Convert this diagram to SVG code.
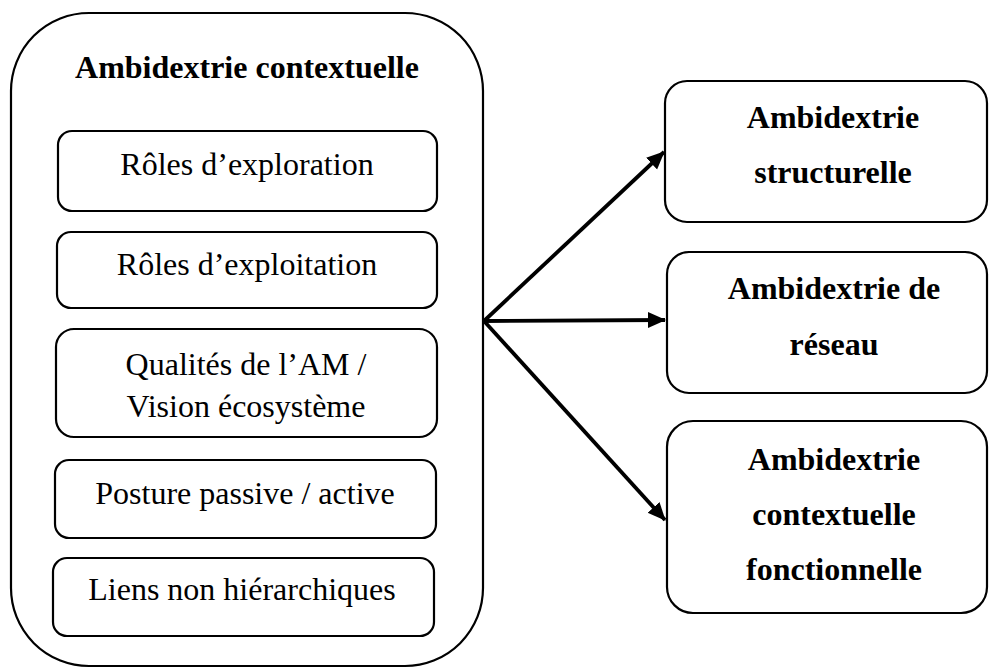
<svg xmlns="http://www.w3.org/2000/svg" width="990" height="668" viewBox="0 0 990 668">
<style>
.box{fill:#fff;stroke:#000;stroke-width:2.2}
.t{font-family:"Liberation Serif","Times New Roman",serif;font-size:32px;fill:#000;text-anchor:middle}
.b{font-weight:bold}
.c{stroke:#000;stroke-width:3.8;fill:none}
</style>
<defs>
<marker id="ah" markerUnits="userSpaceOnUse" markerWidth="18" markerHeight="18" viewBox="0 0 18 18" refX="17" refY="9" orient="auto">
<path d="M0,1 L18,9 L0,17 Z" fill="#000"/>
</marker>
</defs>
<g id="outer">
<rect class="box" x="11" y="13" width="472" height="653" rx="78" ry="78"/>
<text class="t b" x="247" y="78">Ambidextrie contextuelle</text>
</g>
<g id="n1">
<rect class="box" x="58" y="131" width="379" height="80" rx="14"/>
<text class="t" x="247" y="175">Rôles d’exploration</text>
</g>
<g id="n2">
<rect class="box" x="57" y="232" width="380" height="76" rx="14"/>
<text class="t" x="247" y="275">Rôles d’exploitation</text>
</g>
<g id="n3">
<rect class="box" x="56" y="329" width="381" height="108" rx="18"/>
<text class="t" x="246" y="375">Qualités de l’AM /</text>
<text class="t" x="246" y="417">Vision écosystème</text>
</g>
<g id="n4">
<rect class="box" x="55" y="460" width="381" height="78" rx="14"/>
<text class="t" x="245" y="504">Posture passive / active</text>
</g>
<g id="n5">
<rect class="box" x="53" y="558" width="381" height="78" rx="14"/>
<text class="t" x="242" y="600">Liens non hiérarchiques</text>
</g>
<g id="r1">
<rect class="box" x="665" y="81" width="322" height="141" rx="22"/>
<text class="t b" x="833" y="128">Ambidextrie</text>
<text class="t b" x="833" y="183">structurelle</text>
</g>
<g id="r2">
<rect class="box" x="667" y="252" width="320" height="141" rx="22"/>
<text class="t b" x="834" y="299">Ambidextrie de</text>
<text class="t b" x="834" y="355">réseau</text>
</g>
<g id="r3">
<rect class="box" x="667" y="421" width="320" height="192" rx="26"/>
<text class="t b" x="834" y="470">Ambidextrie</text>
<text class="t b" x="834" y="525">contextuelle</text>
<text class="t b" x="834" y="580">fonctionnelle</text>
</g>
<g id="connectors">
<line class="c" x1="484" y1="321" x2="664" y2="152" marker-end="url(#ah)"/>
<line class="c" x1="484" y1="321" x2="665" y2="320" marker-end="url(#ah)"/>
<line class="c" x1="484" y1="321" x2="665" y2="520" marker-end="url(#ah)"/>
</g>
</svg>
